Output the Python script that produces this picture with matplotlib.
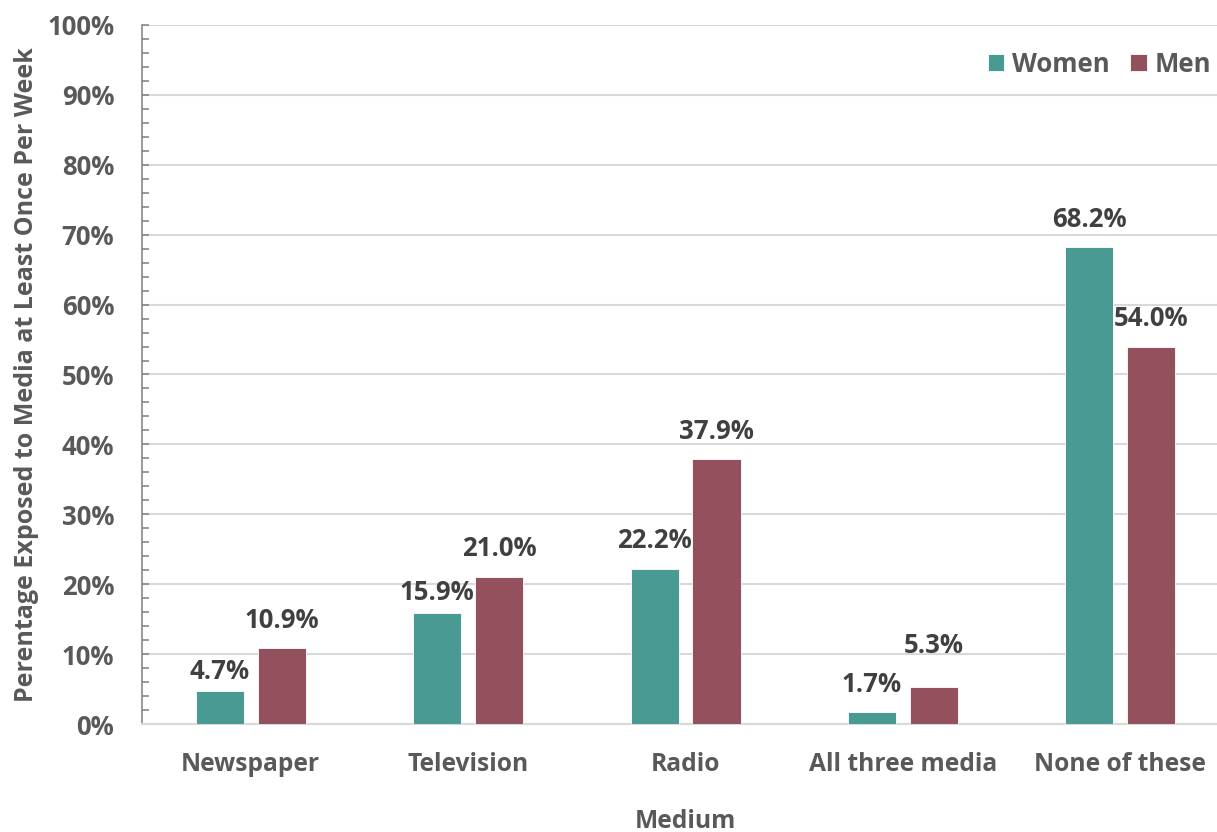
import numpy as np
import matplotlib.pyplot as plt
from matplotlib.ticker import MultipleLocator, PercentFormatter

plt.rcParams['font.family'] = ['Open Sans', 'DejaVu Sans']
plt.rcParams['font.weight'] = 'bold'

media = ['Newspaper', 'Television', 'Radio', 'All three media', 'None of these']
women = [4.7, 15.9, 22.2, 1.7, 68.2]
men = [10.9, 21.0, 37.9, 5.3, 54.0]

# gap (points) between bar top and label baseline
women_lift = [8.5, 9.5, 15, 14.5, 14.5]
men_lift = [14.5, 15, 14.5, 24.5, 14.5]

teal = '#4A9A94'
plum = '#93505D'
grey_txt = '#595959'
dark_txt = '#404040'

fig = plt.figure(figsize=(12.17, 8.32), dpi=100)
ax = fig.add_axes([0.1167, 0.1298, 0.8932, 0.8402])

x = np.arange(len(media))
w = 0.221
off = 0.1425
b1 = ax.bar(x - off, women, w, color=teal, edgecolor='white', linewidth=0.6, label='Women', zorder=3)
b2 = ax.bar(x + off, men, w, color=plum, edgecolor='white', linewidth=0.6, label='Men', zorder=3)

for bars, vals, lifts in ((b1, women, women_lift), (b2, men, men_lift)):
    for rect, v, dy in zip(bars, vals, lifts):
        ax.annotate(f'{v:.1f}%', (rect.get_x() + rect.get_width() / 2, v),
                    xytext=(0, dy), textcoords='offset points', ha='center', va='baseline',
                    fontsize=18.5, fontweight='bold', color=dark_txt)

ax.set_xlim(-0.5, 4.5)
ax.set_ylim(0, 100)
ax.yaxis.set_major_locator(MultipleLocator(10))
ax.yaxis.set_minor_locator(MultipleLocator(2))
ax.yaxis.set_major_formatter(PercentFormatter(decimals=0))
ax.grid(axis='y', color='#D9D9D9', linewidth=1.5, zorder=0)
ax.set_xticks(x)
ax.set_xticklabels(media)
ax.tick_params(axis='x', length=0, pad=20, labelsize=17.7, labelcolor=grey_txt)
ax.tick_params(axis='y', which='both', direction='in', length=5, width=1.1,
               color='#7F7F7F', labelsize=18.5, labelcolor=grey_txt, pad=20)

for s in ('top', 'right'):
    ax.spines[s].set_visible(False)
ax.spines['left'].set_color('#7F7F7F')
ax.spines['left'].set_linewidth(1.1)
ax.spines['bottom'].set_color('#D9D9D9')
ax.spines['bottom'].set_linewidth(1.5)

ax.set_xlabel('Medium', fontsize=17.7, fontweight='bold', color=grey_txt, labelpad=23)
ax.set_ylabel('Perentage Exposed to Media at Least Once Per Week', fontsize=18,
              fontweight='bold', color=grey_txt, labelpad=6)

leg = ax.legend(loc='center right', bbox_to_anchor=(1211 / 1217, 1 - 64 / 832),
                bbox_transform=fig.transFigure, ncol=2, frameon=False,
                fontsize=18.5, handlelength=0.66, handleheight=0.66, handletextpad=0.3,
                columnspacing=0.78, borderaxespad=0, borderpad=0)
for t in leg.get_texts():
    t.set_color(grey_txt)

fig.savefig('out.png', dpi=100)
